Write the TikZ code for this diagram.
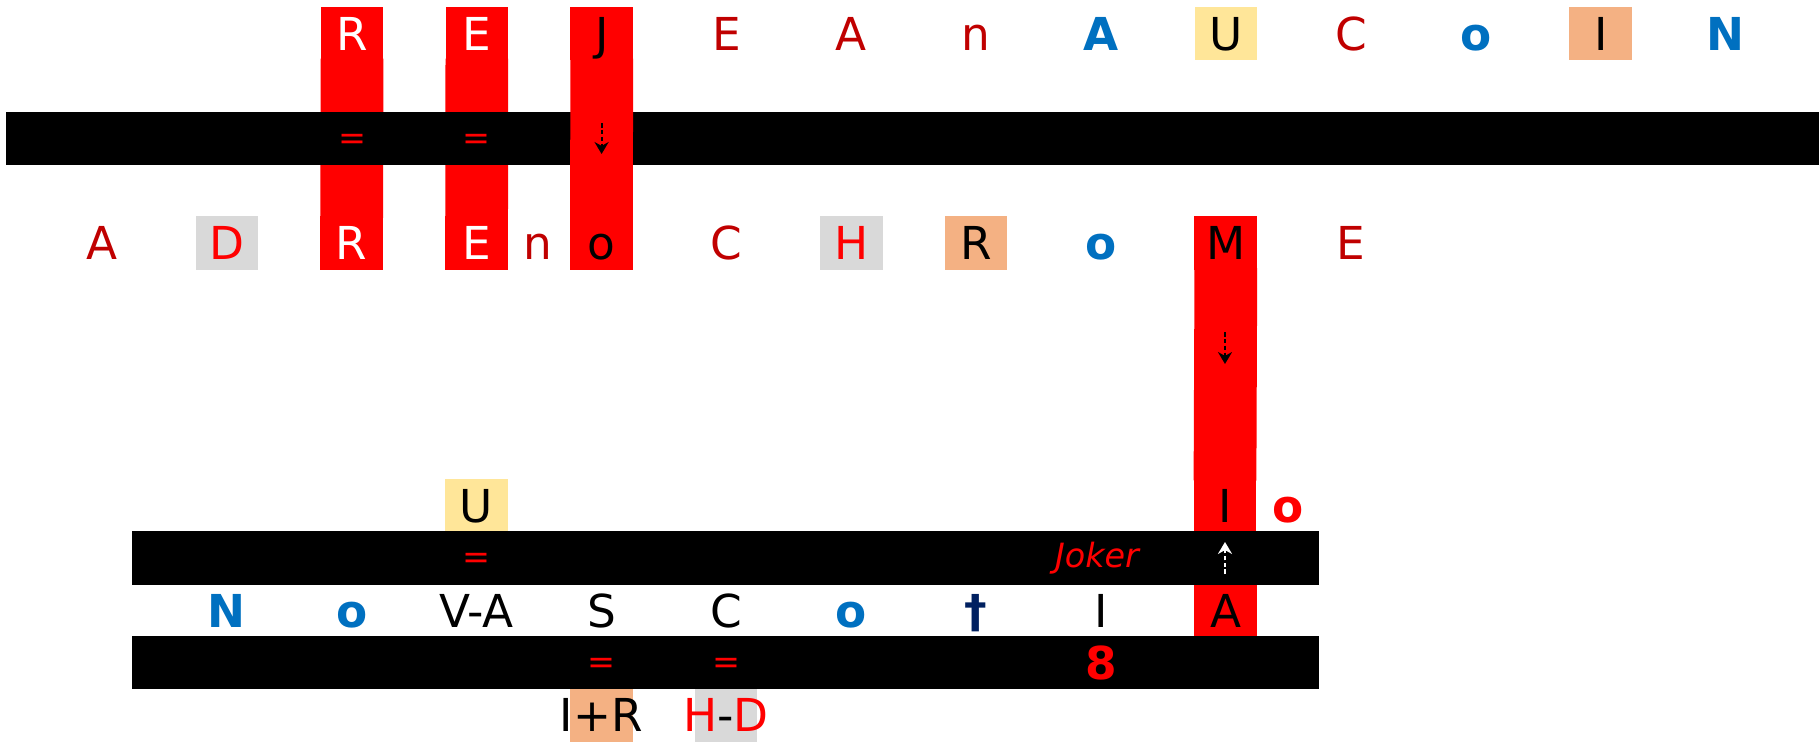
\documentclass[tikz,border=0pt]{standalone}
\usepackage{fontspec}
\setmainfont{DejaVu Sans}
\usetikzlibrary{arrows.meta}
\definecolor{darkred}{HTML}{C00000}
\definecolor{accblue}{HTML}{0070C0}
\definecolor{daggerblue}{HTML}{002060}
\definecolor{cellyellow}{HTML}{FFE699}
\definecolor{cellorange}{HTML}{F4B183}
\definecolor{cellgrey}{HTML}{D9D9D9}

\begin{document}
\begin{tikzpicture}[x=0.01cm,y=-0.01cm,node distance=1.248cm,
    cell/.style={minimum width=0.627cm,minimum height=0.53cm,inner sep=0pt,
                 text height=9.4pt,text depth=0pt,font=\fontsize{12.9}{15}\selectfont},
    red cell/.style={cell,fill=red},
    plain/.style={cell,text=darkred},
    strong/.style={cell,text=accblue,font=\fontsize{12.9}{15}\selectfont\bfseries},
    bar/.style={fill=black,inner sep=0pt,minimum height=0.53cm},
    small/.style={inner sep=0pt,font=\fontsize{9.5}{11}\selectfont},
    red link/.style={red,line width=0.627cm,shorten <=-0.6pt,shorten >=-0.6pt},
    dash arrow/.style={line width=0.6pt,dash pattern=on 1.3pt off 0.65pt,
                       -{Stealth[length=3.4pt,width=4pt]}}]
  \useasboundingbox (0,0) rectangle (1820,748);

  \node[red cell,text=white] (t2) at (352,33.5) {R};
  \node[red cell,text=white] (t3) [right of=t2] {E};
  \node[red cell] (t4) [right of=t3] {J};
  \node[plain] (t5) [right of=t4] {E};
  \node[plain] (t6) [right of=t5] {A};
  \node[plain] (t7) [right of=t6] {n};
  \node[strong] (t8) [right of=t7] {A};
  \node[cell,fill=cellyellow] (t9) [right of=t8] {U};
  \node[plain] (t10) [right of=t9] {C};
  \node[strong] (t11) [right of=t10] {o};
  \node[cell,fill=cellorange] (t12) [right of=t11] {I};
  \node[strong] (t13) [right of=t12] {N};

  \node[plain] (m0) at (102,243) {A};
  \node[cell,fill=cellgrey,text=red] (m1) [right of=m0] {D};
  \node[red cell,text=white] (m2) [right of=m1] {R};
  \node[red cell,text=white] (m3) [right of=m2] {E};
  \node[red cell] (m4) [right of=m3] {o};
  \node[plain] (mn) at (538,243) {n};
  \node[plain] (m5) [right of=m4] {C};
  \node[cell,fill=cellgrey,text=red] (m6) [right of=m5] {H};
  \node[cell,fill=cellorange] (m7) [right of=m6] {R};
  \node[strong] (m8) [right of=m7] {o};
  \node[red cell] (m9) [right of=m8] {M};
  \node[plain] (m10) [right of=m9] {E};

  \node[cell,fill=cellyellow] (u3) at (476.4,505.5) {U};
  \node[red cell] (u9) at (1225,505.5) {I};
  \node[strong,text=red] (uo) at (1288,505.5) {o};

  \node[strong] (b1) at (226.8,610.5) {N};
  \node[strong] (b2) [right of=b1] {o};
  \node[cell,fill=white] (b3) [right of=b2] {V-A};
  \node[cell,fill=white] (b4) [right of=b3] {S};
  \node[cell,fill=white] (b5) [right of=b4] {C};
  \node[strong] (b6) [right of=b5] {o};
  \node[strong,text=daggerblue] (b7) [right of=b6] {†};
  \node[cell,fill=white] (b8) [right of=b7] {I};
  \node[red cell] (b9) [right of=b8] {A};

  \node[cell,fill=cellorange] (l4) at (601.2,715) {\makebox[0pt]{I+R}};
  \node[cell,fill=cellgrey] (l5) [right of=l4] {\makebox[0pt]{\textcolor{red}{H}-\textcolor{red}{D}}};

  \path (t2.south) edge[red link] (m2.north)
        (t3.south) edge[red link] (m3.north);

  \node[bar,minimum width=18.11cm] (topbar) at (912.5,138.5) {};
  \node[bar,minimum width=11.87cm] (midbar) at (725.5,558) {};
  \node[bar,minimum width=11.87cm] (lowbar) at (725.5,662.5) {};

  \path (t4.south) edge[red link] (m4.north)
        (m9.south) edge[red link] (u9.north);

  \coordinate (ja) at (601.6,123);
  \coordinate (jb) at (601.6,154);
  \coordinate (ma) at (1225,332);
  \coordinate (mb) at (1225,364);
  \coordinate (aa) at (1225,574);
  \coordinate (ab) at (1225,542);
  \path (ja) edge[dash arrow] (jb)
        (ma) edge[dash arrow] (mb)
        (aa) edge[dash arrow,white] (ab);

  \node[small,text=red,yshift=-0.03cm] at (t2 |- topbar) {=};
  \node[small,text=red,yshift=-0.03cm] at (t3 |- topbar) {=};
  \node[small,text=red,yshift=-0.03cm] at (u3 |- midbar) {=};
  \node[small,text=red] at (1097,558) {\itshape Joker};
  \node[small,text=red,yshift=-0.03cm] at (b4 |- lowbar) {=};
  \node[small,text=red,yshift=-0.03cm] at (b5 |- lowbar) {=};
  \node[strong,text=red] at (b8 |- lowbar) {8};
\end{tikzpicture}
\end{document}
